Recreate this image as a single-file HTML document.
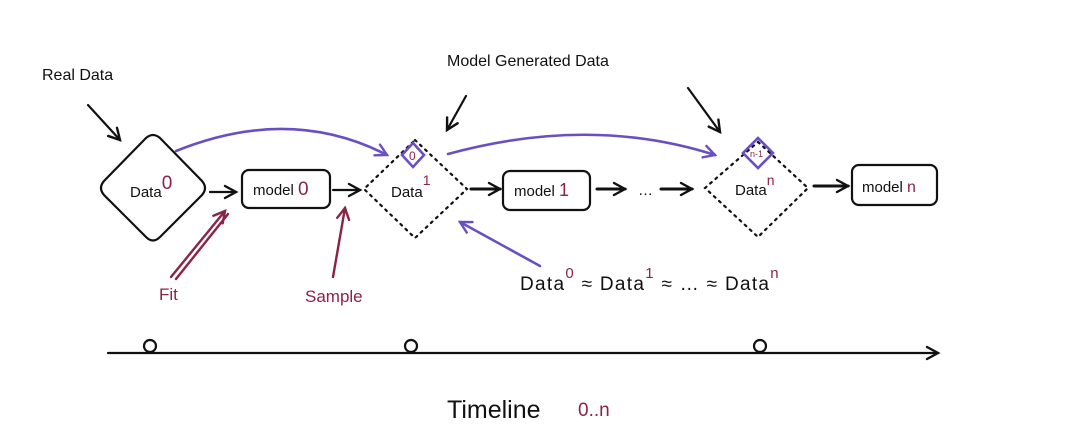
<!DOCTYPE html>
<html><head><meta charset="utf-8"><style>
html,body{margin:0;padding:0;background:#fff;}
svg{display:block;font-family:"Liberation Sans",sans-serif;}
</style></head><body>
<svg width="1080" height="435" viewBox="0 0 1080 435" xmlns="http://www.w3.org/2000/svg">
<defs>
<marker id="ap" markerWidth="16" markerHeight="16" refX="13" refY="8" orient="auto" markerUnits="userSpaceOnUse"><path d="M2,2 L13,8 L2,14" fill="none" stroke="#6a4fc4" stroke-width="2.4" stroke-linecap="round"/></marker>
<marker id="ar" markerWidth="16" markerHeight="16" refX="13" refY="8" orient="auto" markerUnits="userSpaceOnUse"><path d="M2,2 L13,8 L2,14" fill="none" stroke="#8b2346" stroke-width="2.4" stroke-linecap="round"/></marker>
<marker id="ak" markerWidth="16" markerHeight="16" refX="13" refY="8" orient="auto" markerUnits="userSpaceOnUse"><path d="M2,2 L13,8 L2,14" fill="none" stroke="#111" stroke-width="2.4" stroke-linecap="round"/></marker>
</defs>
<g fill="none" stroke="#111" stroke-width="2.2" stroke-linecap="round">
<path d="M146,138 Q153,132 160,138 L202,181 Q208,188 202,195 L160,237 Q153,244 146,237 L104,195 Q98,188 104,181 Z"/>
<rect x="242" y="170" width="88" height="38" rx="7"/>
<rect x="503" y="171" width="87" height="39" rx="7"/>
<rect x="852" y="165" width="85" height="40" rx="7"/>
<path d="M415,140 L467,189 L415,238 L364,189 Z" stroke-dasharray="2 5"/>
<path d="M758,142 L808,188 L758,237 L705,188 Z" stroke-dasharray="2 5"/>
<path d="M210,192 L236,192" marker-end="url(#ak)"/>
<path d="M333,190 L360,190" marker-end="url(#ak)"/>
<path d="M471,189 L500,189" marker-end="url(#ak)" stroke-width="3"/>
<path d="M597,189 L625,189" marker-end="url(#ak)" stroke-width="3"/>
<path d="M661,189 L692,189" marker-end="url(#ak)" stroke-width="3"/>
<path d="M814,186 L848,186" marker-end="url(#ak)" stroke-width="3"/>
<path d="M88,105 L120,140" marker-end="url(#ak)"/>
<path d="M466,96 L447,130" marker-end="url(#ak)"/>
<path d="M688,88 L720,132" marker-end="url(#ak)"/>
<path d="M108,353 L938,353" marker-end="url(#ak)"/>
<circle cx="150" cy="346" r="6"/><circle cx="411" cy="346" r="6"/><circle cx="760" cy="346" r="6"/>
</g>
<g fill="none" stroke="#6a4fc4" stroke-width="2.6" stroke-linecap="round">
<path d="M176,151 Q290,105 387,155" marker-end="url(#ap)"/>
<path d="M448,154 Q590,115 715,155" marker-end="url(#ap)"/>
<path d="M540,266 L460,222" marker-end="url(#ap)"/>
<path d="M413,143 L424,155 L413,167 L402,155 Z"/>
<path d="M758,138 L773,153 L758,168 L743,153 Z"/>
</g>
<g fill="none" stroke="#8b2346" stroke-width="2.4" stroke-linecap="round">
<path d="M171,277 L225,211" marker-end="url(#ar)"/>
<path d="M176,279 L228,214"/>
<path d="M333,277 L345,208" marker-end="url(#ar)"/>
</g>
<g fill="#111" font-size="15">
<text x="42" y="80" font-size="16">Real Data</text>
<text x="447" y="66" font-size="16">Model Generated Data</text>
<text x="130" y="197">Data<tspan fill="#8b2346" font-size="19" dy="-8">0</tspan></text>
<text x="253" y="195">model <tspan fill="#8b2346" font-size="19">0</tspan></text>
<text x="391" y="197">Data<tspan fill="#8b2346" font-size="14" dy="-12">1</tspan></text>
<text x="514" y="196">model <tspan fill="#8b2346" font-size="18">1</tspan></text>
<text x="735" y="195">Data<tspan fill="#8b2346" font-size="14" dy="-10">n</tspan></text>
<text x="862" y="192">model <tspan fill="#8b2346" font-size="16">n</tspan></text>
<text x="638" y="195">…</text>
<text x="520" y="290" font-size="19" letter-spacing="1.3">Data<tspan fill="#8b2346" font-size="15" dy="-12">0</tspan><tspan dy="12"> ≈ Data</tspan><tspan fill="#8b2346" font-size="15" dy="-12">1</tspan><tspan dy="12"> ≈ … ≈ Data</tspan><tspan fill="#8b2346" font-size="15" dy="-12">n</tspan></text>
<text x="447" y="418" font-size="25">Timeline</text>
<text x="578" y="416" font-size="19" fill="#8b2346">0..n</text>
</g>
<g fill="#8b2346">
<text x="409" y="160" font-size="12">0</text>
<text x="750" y="157" font-size="9">n-1</text>
<text x="159" y="300" font-size="17">Fit</text>
<text x="305" y="302" font-size="17">Sample</text>
</g>
</svg>
</body></html>
